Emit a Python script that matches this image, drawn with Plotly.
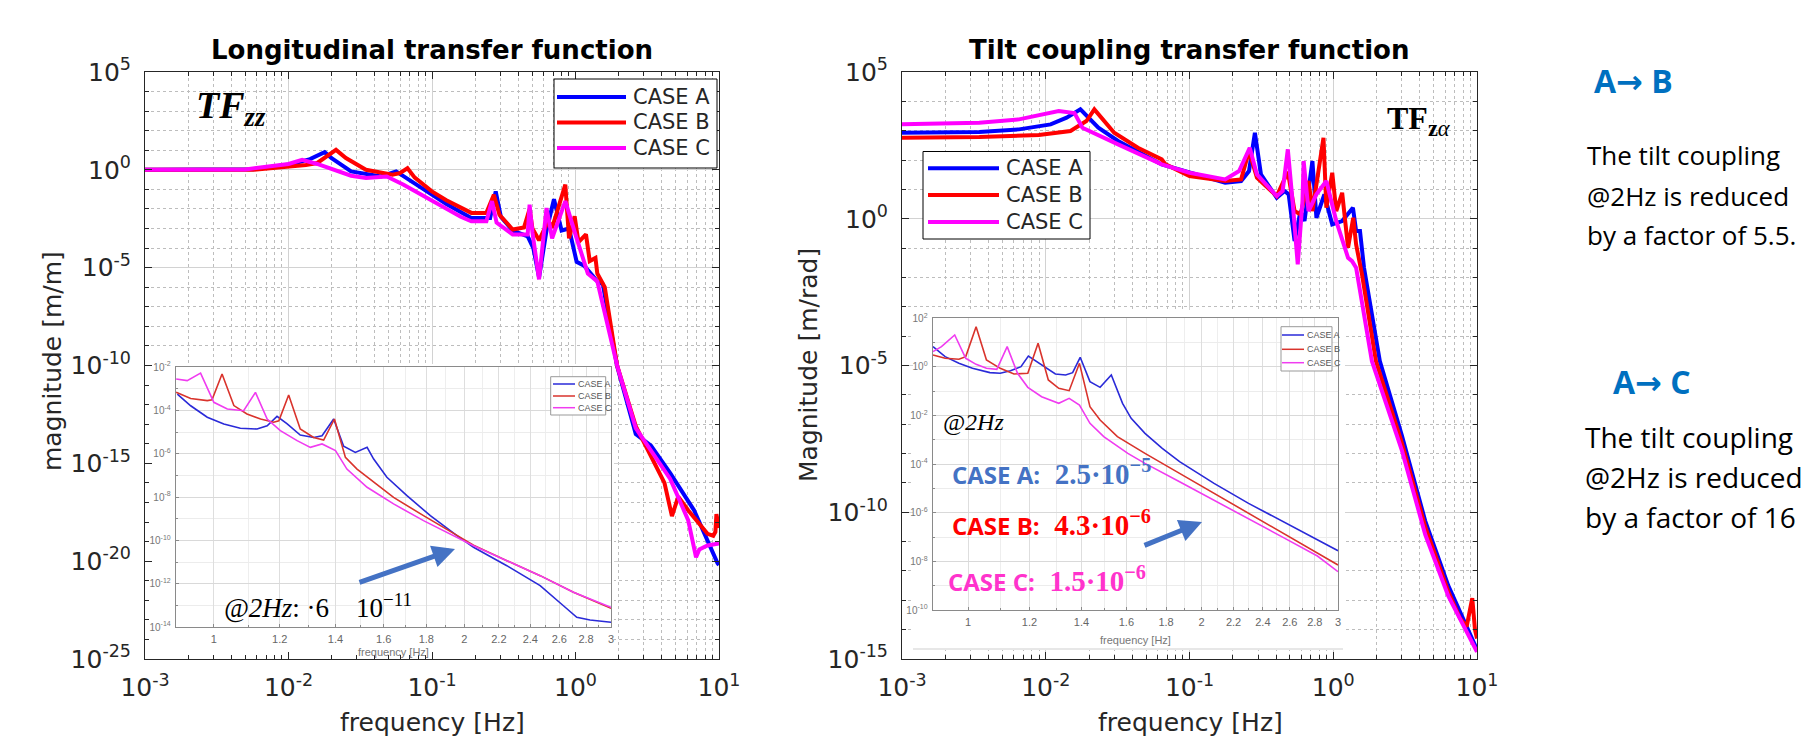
import plotly.graph_objects as go

W, H = 1805, 736

# ------------------------------------------------------------------
# DATA  (frequencies / magnitudes, log10 units)
# ------------------------------------------------------------------
# Longitudinal transfer function (main plot)
zz_A_logf = [-3.0, -2.5, -2.245, -1.983, -1.85, -1.748, -1.70, -1.564, -1.355, -1.25, -1.198, -1.001, -0.9, -0.8,
             -0.726, -0.595, -0.556, -0.52, -0.438, -0.333, -0.294, -0.254, -0.202, -0.15, -0.097, -0.045, 0.008,
             0.06, 0.152, 0.191, 0.289, 0.42, 0.526, 0.66, 0.826, 0.99, 1.0]
zz_A_logm = [0.0, 0.0, 0.03, 0.29, 0.55, 0.9, 0.6, -0.08, -0.34, -0.08, -0.34, -1.27, -1.75, -2.15,
             -2.46, -2.46, -1.1, -2.4, -3.1, -3.4, -4.0, -5.5, -3.1, -1.5, -3.1, -3.0, -4.7,
             -4.9, -5.7, -5.85, -10.0, -13.5, -14.1, -15.5, -17.4, -20.1, -20.2]

zz_B_logf = [-3.0, -2.245, -1.879, -1.80, -1.669, -1.60, -1.46, -1.276, -1.224, -1.171, -1.12, -1.001, -0.9, -0.8,
             -0.726, -0.621, -0.569, -0.53, -0.438, -0.359, -0.32, -0.30, -0.254, -0.189, -0.163, -0.071, -0.045,
             -0.006, 0.021, 0.073, 0.099, 0.139, 0.152, 0.204, 0.283, 0.29, 0.42, 0.62, 0.672, 0.716, 0.785,
             0.92, 0.96, 0.975, 0.982, 1.0]
zz_B_logm = [0.0, 0.0, 0.25, 0.35, 1.02, 0.6, 0.0, -0.25, -0.17, 0.08, -0.4, -1.1, -1.55, -1.95,
             -2.2, -2.2, -1.27, -2.3, -3.05, -2.95, -2.0, -3.0, -3.6, -2.6, -2.97, -0.76, -3.5,
             -2.37, -3.7, -3.3, -4.66, -4.5, -5.3, -6.0, -9.5, -10.0, -13.1, -16.0, -17.7, -16.7, -17.4,
             -18.6, -18.7, -18.5, -17.6, -18.3]

zz_C_logf = [-3.0, -2.3, -2.0, -1.905, -1.8, -1.564, -1.46, -1.315, -1.198, -1.001, -0.9, -0.8, -0.726, -0.621,
             -0.582, -0.55, -0.438, -0.333, -0.32, -0.30, -0.254, -0.202, -0.163, -0.13, -0.071, 0.008, 0.086,
             0.152, 0.283, 0.29, 0.42, 0.66, 0.785, 0.84, 0.863, 0.92, 1.0]
zz_C_logm = [0.0, 0.02, 0.3, 0.51, 0.3, -0.3, -0.42, -0.34, -0.76, -1.6, -2.0, -2.4, -2.63, -2.63,
             -1.6, -2.7, -3.3, -3.3, -1.78, -3.2, -5.6, -1.95, -3.5, -2.8, -1.6, -3.5, -5.3,
             -5.7, -9.6, -10.0, -13.2, -15.8, -17.9, -19.8, -19.4, -19.2, -19.1]

# Tilt coupling transfer function (main plot)
za_A_logf = [-3.0, -2.462, -2.186, -1.966, -1.855, -1.759, -1.634, -1.497, -1.193, -1.0, -0.752, -0.641, -0.586,
             -0.545, -0.503, -0.393, -0.338, -0.310, -0.269, -0.228, -0.2, -0.145, -0.117, -0.062, -0.007, 0.062,
             0.137, 0.159, 0.186, 0.214, 0.324, 0.478, 0.64, 0.8, 1.0]
za_A_logm = [2.932, 2.955, 3.045, 3.216, 3.443, 3.727, 3.102, 2.648, 1.852, 1.568, 1.227, 1.284, 1.625,
             2.932, 1.511, 0.716, 0.943, 0.83, -0.761, 0.261, -0.08, 1.966, 0.034, 0.83, -0.193, -0.08,
             0.375, -0.42, -0.42, -1.67, -4.852, -7.4, -10.3, -12.5, -14.68]

za_B_logf = [-3.0, -2.462, -2.048, -1.828, -1.717, -1.662, -1.524, -1.359, -1.193, -1.166, -1.0, -0.752, -0.641,
             -0.586, -0.531, -0.393, -0.316, -0.269, -0.228, -0.172, -0.145, -0.068, -0.048, -0.007, 0.021,
             0.062, 0.103, 0.139, 0.159, 0.2, 0.297, 0.478, 0.64, 0.8, 0.882, 0.928, 0.967, 0.986, 1.0]
za_B_logm = [2.761, 2.784, 2.852, 2.989, 3.33, 3.727, 2.932, 2.42, 2.023, 1.852, 1.455, 1.284, 1.341,
             2.307, 1.398, 0.773, 1.6, 0.261, 0.148, 1.284, 0.261, 2.761, 0.375, 1.568, 0.261,
             0.886, -0.989, 0.034, -0.875, -1.898, -4.852, -7.65, -10.5, -12.7, -13.61, -13.9, -12.93, -14.0, -14.3]

za_C_logf = [-3.0, -2.462, -2.186, -1.91, -1.80, -1.745, -1.497, -1.193, -1.0, -0.752, -0.655, -0.581, -0.531,
             -0.393, -0.352, -0.316, -0.283, -0.247, -0.214, -0.206, -0.172, -0.117, -0.048, 0.021, 0.103,
             0.131, 0.159, 0.269, 0.478, 0.64, 0.8, 1.0]
za_C_logm = [3.216, 3.273, 3.386, 3.67, 3.6, 3.102, 2.534, 1.852, 1.568, 1.341, 1.625, 2.42, 1.511,
             0.773, 0.943, 2.364, 0.602, -1.557, 0.602, 1.966, 0.261, 0.83, 1.284, -0.08, -1.33,
             -1.443, -1.67, -4.852, -7.9, -10.76, -12.85, -14.76]

# Inset of the longitudinal TF (frequency in Hz, magnitude in log10)
in_zz_A_f = [0.904, 0.938, 0.982, 1.028, 1.076, 1.127, 1.159, 1.191, 1.225, 1.270, 1.318, 1.349, 1.393, 1.432,
             1.479, 1.528, 1.556, 1.614, 1.706, 1.820, 1.959, 2.051, 2.249, 2.466, 2.63, 2.729, 2.831, 3.0]
in_zz_A_logm = [-3.25, -3.79, -4.32, -4.63, -4.83, -4.86, -4.71, -4.28, -4.63, -5.14, -5.25, -5.17, -4.40, -5.66,
                -5.94, -5.71, -6.25, -7.09, -7.94, -8.86, -9.78, -10.32, -11.17, -12.09, -13.02, -13.55, -13.68, -13.78]
in_zz_B_f = [0.901, 0.938, 0.982, 0.995, 1.023, 1.057, 1.096, 1.138, 1.180, 1.197, 1.230, 1.270, 1.318, 1.355,
             1.396, 1.439, 1.486, 1.556, 1.644, 1.786, 1.959, 2.051, 2.249, 2.466, 2.704, 3.0]
in_zz_B_logm = [-3.17, -3.45, -3.55, -3.51, -2.32, -3.78, -4.17, -4.40, -4.55, -4.48, -3.29, -4.86, -5.25, -5.37,
                -4.40, -6.17, -6.71, -7.32, -8.02, -8.86, -9.78, -10.22, -10.94, -11.63, -12.40, -13.14]
in_zz_C_f = [0.901, 0.929, 0.964, 1.0, 1.038, 1.086, 1.122, 1.159, 1.202, 1.259, 1.306, 1.349, 1.400, 1.445,
             1.528, 1.644, 1.786, 1.959, 2.051, 2.249, 2.466, 2.704, 3.0]
in_zz_C_logm = [-2.55, -2.63, -2.28, -3.63, -3.94, -4.02, -3.17, -4.40, -4.94, -5.40, -5.71, -5.55, -5.86, -6.71,
                -7.55, -8.32, -9.09, -9.86, -10.25, -10.94, -11.63, -12.40, -13.09]

# Inset of the tilt coupling TF
in_za_A_f = [0.901, 0.934, 0.973, 1.013, 1.067, 1.100, 1.134, 1.170, 1.196, 1.244, 1.296, 1.336, 1.364, 1.395,
             1.436, 1.480, 1.530, 1.582, 1.623, 1.691, 1.780, 1.874, 2.076, 2.300, 2.548, 2.822, 3.0]
in_za_A_logm = [0.834, 0.423, 0.148, -0.058, -0.236, -0.263, -0.154, 0.011, 0.45, 0.080, -0.291, -0.332, -0.236, 0.395,
                -0.606, -0.840, -0.332, -1.498, -2.115, -2.733, -3.35, -3.898, -4.79, -5.613, -6.368, -7.122, -7.561]
in_za_B_f = [0.901, 0.934, 0.973, 0.993, 1.024, 1.056, 1.100, 1.146, 1.194, 1.231, 1.269, 1.309, 1.350, 1.392,
             1.436, 1.480, 1.558, 1.691, 1.874, 2.076, 2.300, 2.548, 2.822, 3.0]
in_za_B_logm = [0.491, 0.354, 0.313, 0.423, 1.657, 0.285, -0.058, -0.291, -0.263, 0.971, -0.538, -0.881, -0.977, 0.148,
                -1.635, -2.184, -2.87, -3.556, -4.379, -5.202, -6.025, -6.848, -7.671, -8.151]
in_za_C_f = [0.901, 0.924, 0.961, 0.993, 1.024, 1.056, 1.089, 1.123, 1.158, 1.194, 1.244, 1.309, 1.350, 1.392,
             1.436, 1.496, 1.607, 1.691, 1.874, 2.076, 2.300, 2.548, 2.822, 3.0]
in_za_C_logm = [0.628, 0.834, 1.314, 0.354, 0.107, -0.058, -0.099, 0.834, -0.263, -0.84, -1.224, -1.498, -1.292, -1.567,
                -2.321, -2.87, -3.556, -3.967, -4.722, -5.476, -6.23, -7.012, -7.78, -8.425]

case_labels = ["CASE A", "CASE B", "CASE C"]
main_x_exp = [-3, -2, -1, 0, 1]
zz_y_exp = [5, 0, -5, -10, -15, -20, -25]
za_y_exp = [5, 0, -5, -10, -15]
inset_x_ticks = [1, 1.2, 1.4, 1.6, 1.8, 2, 2.2, 2.4, 2.6, 2.8, 3]
inset_x_minor = [0.9, 1.1, 1.3, 1.5, 1.7, 1.9, 2.1, 2.3, 2.5, 2.7, 2.9]
in_zz_y_exp = [-2, -4, -6, -8, -10, -12, -14]
in_za_y_exp = [2, 0, -2, -4, -6, -8, -10]

# ------------------------------------------------------------------
BLUE, RED, MAG = "#0000ff", "#ff0000", "#ff00ff"
IN_COLORS = ["#2a2ad8", "#d9332c", "#f03cf0"]
AX = "#262626"

fig = go.Figure()


def px(x):
    return x / W


def py(y):
    return 1 - y / H


def add_curve(xs, logm, color, width, xa, ya, log_x=True):
    x = [10 ** v for v in xs] if log_x else list(xs)
    y = [10 ** v for v in logm]
    fig.add_trace(go.Scatter(x=x, y=y, mode="lines", line=dict(color=color, width=width),
                             xaxis=xa, yaxis=ya, showlegend=False, hoverinfo="skip"))


# main curves
for (lf, lm), c in zip([(zz_A_logf, zz_A_logm), (zz_B_logf, zz_B_logm), (zz_C_logf, zz_C_logm)], [BLUE, RED, MAG]):
    add_curve(lf, lm, c, 4, "x", "y")
for (lf, lm), c in zip([(za_A_logf, za_A_logm), (za_B_logf, za_B_logm), (za_C_logf, za_C_logm)], [BLUE, RED, MAG]):
    add_curve(lf, lm, c, 4, "x2", "y2")
# inset curves
for (f, lm), c in zip([(in_zz_A_f, in_zz_A_logm), (in_zz_B_f, in_zz_B_logm), (in_zz_C_f, in_zz_C_logm)], IN_COLORS):
    add_curve(f, lm, c, 1.6, "x3", "y3", log_x=False)
for (f, lm), c in zip([(in_za_A_f, in_za_A_logm), (in_za_B_f, in_za_B_logm), (in_za_C_f, in_za_C_logm)], IN_COLORS):
    add_curve(f, lm, c, 1.6, "x4", "y4", log_x=False)


def p10(k):
    return f"10<sup>{k}</sup>"


def main_x(domain, anchor):
    return dict(domain=domain, anchor=anchor, type="log", range=[-3, 1], automargin=False,
                tickmode="array", tickvals=[10 ** k for k in main_x_exp], ticktext=[p10(k) for k in main_x_exp],
                ticks="inside", ticklen=7, tickwidth=1, tickcolor=AX,
                showline=True, linecolor=AX, linewidth=1, mirror="ticks",
                showgrid=True, gridcolor="#d2d2d2", gridwidth=1, zeroline=False,
                tickfont=dict(family="DejaVu Sans", size=25, color=AX), ticklabelstandoff=6,
                minor=dict(tickmode="linear", dtick="D1", ticks="inside", ticklen=4, tickcolor=AX,
                           showgrid=True, gridcolor="#bdbdbd", griddash="dot", gridwidth=1))


def main_y(domain, anchor, exps, rng):
    return dict(domain=domain, anchor=anchor, type="log", range=rng, automargin=False,
                tickmode="array", tickvals=[10.0 ** k for k in exps], ticktext=[p10(k) for k in exps],
                ticks="inside", ticklen=7, tickwidth=1, tickcolor=AX,
                showline=True, linecolor=AX, linewidth=1, mirror="ticks",
                showgrid=True, gridcolor="#d2d2d2", gridwidth=1, zeroline=False,
                tickfont=dict(family="DejaVu Sans", size=25, color=AX), ticklabelstandoff=8,
                minor=dict(tickmode="linear", tick0=0, dtick=1, ticks="inside", ticklen=4, tickcolor=AX,
                           showgrid=True, gridcolor="#bdbdbd", griddash="dot", gridwidth=1))


def inset_x(domain, anchor):
    return dict(domain=domain, anchor=anchor, type="log", range=[-0.0458, 0.4771], automargin=False,
                tickmode="array", tickvals=inset_x_ticks, ticktext=[f"{v:g}" for v in inset_x_ticks],
                ticks="inside", ticklen=3, tickcolor="#8a8a8a",
                showline=True, linecolor="#8a8a8a", linewidth=1, mirror=True,
                showgrid=True, gridcolor="#dedede", zeroline=False,
                tickfont=dict(family="Liberation Sans Narrow, Liberation Sans", size=11, color="#666"),
                ticklabelstandoff=2,
                minor=dict(tickmode="array", tickvals=inset_x_minor, showgrid=True, gridcolor="#eeeeee",
                           ticks="inside", ticklen=2, tickcolor="#8a8a8a"))


def inset_y(domain, anchor, exps):
    return dict(domain=domain, anchor=anchor, type="log", range=[min(exps), max(exps)], automargin=False,
                tickmode="array", tickvals=[10.0 ** k for k in exps], ticktext=[p10(k) for k in exps],
                ticks="inside", ticklen=3, tickcolor="#8a8a8a",
                showline=True, linecolor="#8a8a8a", linewidth=1, mirror=True,
                showgrid=True, gridcolor="#d9d9d9", zeroline=False,
                tickfont=dict(family="Liberation Sans Narrow, Liberation Sans", size=10, color="#777"),
                ticklabelstandoff=2,
                minor=dict(tickmode="linear", tick0=0, dtick=1, showgrid=True, gridcolor="#ececec",
                           ticks="inside", ticklen=2, tickcolor="#8a8a8a"))


YDOM = [py(659), py(72)]
fig.update_layout(
    width=W, height=H, margin=dict(l=0, r=0, t=0, b=0, autoexpand=False),
    paper_bgcolor="white", plot_bgcolor="white", showlegend=False,
    xaxis=main_x([px(145), px(719)], "y"),
    yaxis=main_y(YDOM, "x", zz_y_exp, [-25, 5]),
    xaxis2=main_x([px(902), px(1477)], "y2"),
    yaxis2=main_y(YDOM, "x2", za_y_exp, [-15, 5]),
    xaxis3=inset_x([px(175.7), px(611)], "y3"),
    yaxis3=inset_y([py(627), py(367)], "x3", in_zz_y_exp),
    xaxis4=inset_x([px(932.6), px(1338)], "y4"),
    yaxis4=inset_y([py(610), py(318.3)], "x4", in_za_y_exp),
)


# white areas of the pasted inset pictures (over the main grid, under the curves)
def cover(xref, yref, x0, x1, y0, y1, dx, dy, xr, yr):
    def dx_(p):
        return 10 ** (xr[0] + (p - dx[0]) / (dx[1] - dx[0]) * (xr[1] - xr[0]))

    def dy_(p):
        return 10 ** (yr[1] - (p - dy[0]) / (dy[1] - dy[0]) * (yr[1] - yr[0]))

    fig.add_shape(type="rect", xref=xref, yref=yref, layer="between",
                  x0=dx_(x0), x1=dx_(x1), y0=dy_(y1), y1=dy_(y0),
                  fillcolor="white", line=dict(width=0))


cover("x", "y", 148, 614, 364, 657, (145, 719), (72, 659), (-3, 1), (-25, 5))
cover("x2", "y2", 913, 1345, 310, 650, (902, 1477), (72, 659), (-3, 1), (-15, 5))
fig.add_shape(type="line", xref="paper", yref="paper", x0=px(913), x1=px(1343), y0=py(649), y1=py(649),
              line=dict(color="#cfcfcf", width=1), layer="above")


def ann(x, y, text, size, family, color="black", xanchor="center", yanchor="middle", angle=0):
    fig.add_annotation(x=px(x), y=py(y), xref="paper", yref="paper", text=text, showarrow=False,
                       xanchor=xanchor, yanchor=yanchor, textangle=angle,
                       font=dict(size=size, family=family, color=color))


def legend(box, rows, lx0, lx1, tx, colors, lw, fsize, family, fcolor, bcolor):
    fig.add_shape(type="rect", xref="paper", yref="paper", x0=px(box[0]), x1=px(box[2]),
                  y0=py(box[3]), y1=py(box[1]), line=dict(color=bcolor, width=1), fillcolor="white", layer="above")
    for r, c, lab in zip(rows, colors, case_labels):
        fig.add_shape(type="line", xref="paper", yref="paper", x0=px(lx0), x1=px(lx1), y0=py(r), y1=py(r),
                      line=dict(color=c, width=lw), layer="above")
        ann(tx, r, lab, fsize, family, fcolor, xanchor="left")


# main legends
legend((554, 79, 717, 168), [97, 122.5, 148], 557, 626, 631, [BLUE, RED, MAG], 4, 21, "DejaVu Sans", AX, "#000")
legend((923, 151.5, 1090, 239), [168.3, 195, 222], 928, 999, 1004, [BLUE, RED, MAG], 4, 21, "DejaVu Sans", AX, "#000")
# inset legends
legend((550.7, 376.7, 605.7, 415), [384, 396, 407.7], 553, 575, 576, IN_COLORS, 1.5, 9,
       "Liberation Sans Narrow, Liberation Sans", "#555", "#999")
legend((1281, 326.7, 1332, 371), [335, 349.3, 362.7], 1282, 1304, 1305, IN_COLORS, 1.5, 9,
       "Liberation Sans Narrow, Liberation Sans", "#555", "#999")

# titles and axis titles
ann(432, 50, "<b>Longitudinal transfer function</b>", 26, "DejaVu Sans", "black")
ann(1189, 50, "<b>Tilt coupling transfer function</b>", 26, "DejaVu Sans", "black")
ann(432, 722, "frequency [Hz]", 25, "DejaVu Sans", AX)
ann(1190, 722, "frequency [Hz]", 25, "DejaVu Sans", AX)
ann(52, 361, "magnitude [m/m]", 25, "DejaVu Sans", AX, angle=-90)
ann(808, 365, "Magnitude [m/rad]", 25, "DejaVu Sans", AX, angle=-90)

# inset axis titles
ann(393, 652, "frequency [Hz]", 11, "Liberation Sans Narrow, Liberation Sans", "#777")
ann(1135, 640, "frequency [Hz]", 11, "Liberation Sans Narrow, Liberation Sans", "#777")

# TF labels
ann(194, 108, "<b><i>TF<sub>zz</sub></i></b>", 38, "Liberation Serif", "black", xanchor="left")
ann(1385, 120, "<b>TF<sub>z</sub></b><sub><i>α</i></sub>", 32, "Liberation Serif", "black", xanchor="left")

# inset notes
ann(222, 606, "<i>@2Hz</i>: ·6\u2002\u200210<sup>−11</sup>", 27, "Liberation Serif", "black", xanchor="left")
ann(941, 422, "<i>@2Hz</i>", 24, "Liberation Serif", "black", xanchor="left")


def case_note(x, y, head, val, exp, color):
    text = (f"<span style='font-family:Open Sans'><b>{head}</b></span>"
            f"<span style='font-family:Liberation Serif;font-size:29px'><b>\u2002{val}·10<sup>−{exp}</sup></b></span>")
    ann(x, y, text, 24, "Open Sans", color, xanchor="left")


case_note(950, 472, "CASE A:", "2.5", 5, "#4472c4")
case_note(950, 523, "CASE B:", "4.3", 6, "#ff0000")
case_note(946, 579, "CASE C:", "1.5", 6, "#ff33cc")

# arrows
fig.add_annotation(x=px(455), y=py(549), xref="paper", yref="paper", text="", showarrow=True,
                   ax=-97, ay=34, arrowhead=2, arrowsize=0.9, arrowwidth=5, arrowcolor="#4472c4")
fig.add_annotation(x=px(1202), y=py(522), xref="paper", yref="paper", text="", showarrow=True,
                   ax=-59, ay=24, arrowhead=2, arrowsize=0.9, arrowwidth=5, arrowcolor="#4472c4")

# right-hand comments
ARW = "<span style='font-family:DejaVu Sans'>→</span>"
ann(1592, 80, f"<b>A{ARW} B</b>", 32, "Open Sans", "#0070c0", xanchor="left")
ann(1585, 155, "The tilt coupling", 26, "Open Sans", "black", xanchor="left")
ann(1585, 196, "@2Hz is reduced", 26, "Open Sans", "black", xanchor="left")
ann(1585, 235, "by a factor of 5.5.", 26, "Open Sans", "black", xanchor="left")
ann(1611, 381, f"<b>A{ARW} C</b>", 32, "Open Sans", "#0070c0", xanchor="left")
ann(1583, 437, "The tilt coupling", 28, "Open Sans", "black", xanchor="left")
ann(1583, 477, "@2Hz is reduced", 28, "Open Sans", "black", xanchor="left")
ann(1583, 517, "by a factor of 16", 28, "Open Sans", "black", xanchor="left")

fig.write_html("out.html")
